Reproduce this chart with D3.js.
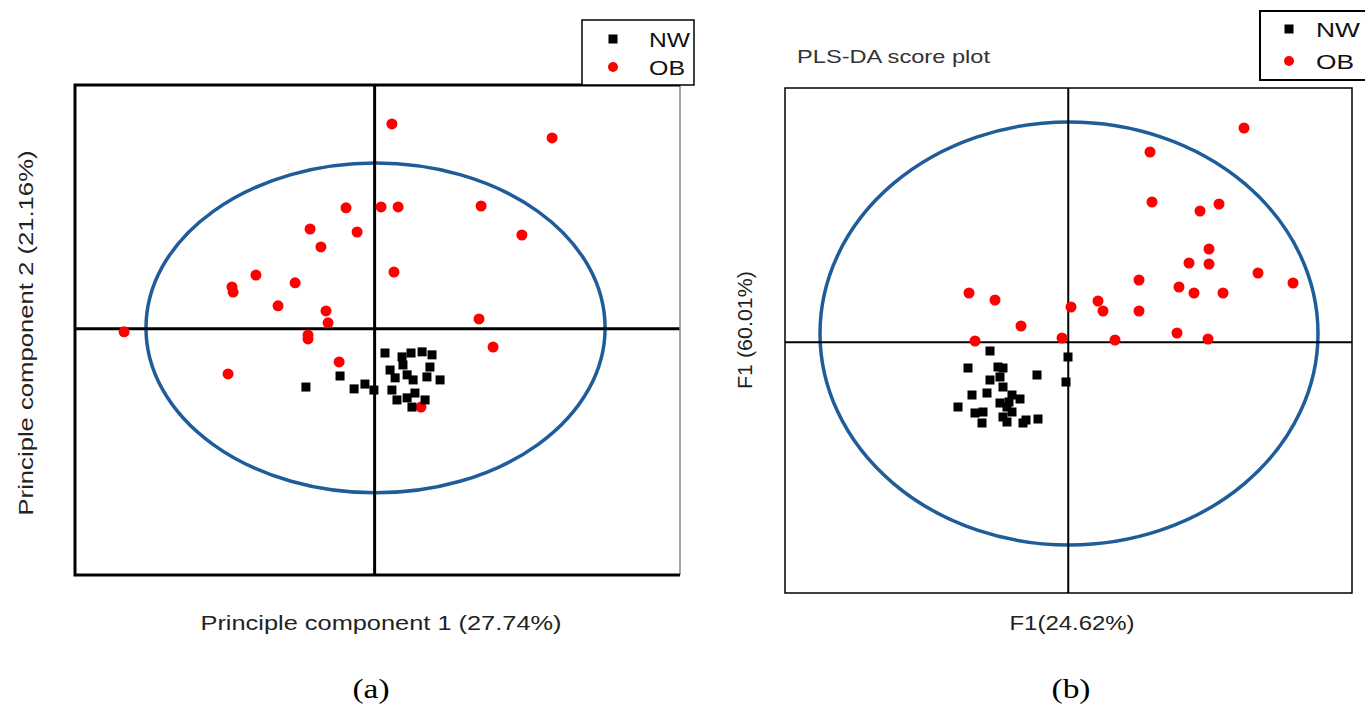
<!DOCTYPE html>
<html>
<head>
<meta charset="utf-8">
<script src="https://cdn.jsdelivr.net/npm/d3@7/dist/d3.min.js"></script>
<style>
  html, body { margin: 0; padding: 0; background: #fff; }
  svg { display: block; }
</style>
</head>
<body>
<svg id="chart" width="1365" height="704"></svg>
<script>
// ---- PCA scores (panel a): [PC1, PC2] ----
const pcaNW = [
  [-2.98,-2.53],[-1.50,-2.05],[-0.89,-2.61],[-0.42,-2.40],[-0.03,-2.66],
  [0.45,-1.05],[1.19,-1.22],[2.06,-1.00],[2.49,-1.13],[1.23,-1.57],
  [2.40,-1.66],[0.67,-1.79],[0.89,-2.13],[1.41,-2.00],[1.67,-2.22],
  [2.84,-2.22],[2.27,-2.09],[0.75,-2.66],[0.97,-3.09],[1.41,-3.00],
  [1.75,-2.79],[2.19,-3.09],[1.62,-3.40],[1.58,-1.05]
];
const pcaOB = [
  [0.75,8.91],[7.70,8.30],[-1.24,5.26],[0.28,5.30],[1.02,5.30],
  [4.62,5.34],[-2.80,4.34],[-0.76,4.21],[-2.33,3.56],[6.39,4.08],
  [0.84,2.47],[-5.15,2.34],[-6.19,1.82],[-6.14,1.60],[-3.45,2.00],
  [-4.19,1.00],[-2.11,0.78],[-2.02,0.26],[-10.87,-0.13],[-2.89,-0.27],
  [-2.89,-0.44],[-1.54,-1.44],[-6.36,-1.96],[4.53,0.43],[5.14,-0.79],
  [2.01,-3.40]
];
// ---- PLS-DA scores (panel b): [F1, F2] ----
const plsNW = [
  [-3.13,-0.35],[-4.01,-1.03],[-2.81,-0.99],[-3.13,-1.51],[-2.73,-1.39],
  [-3.85,-2.11],[-3.25,-2.03],[-2.61,-1.79],[-4.41,-2.59],[-3.73,-2.83],
  [-3.41,-2.79],[-3.45,-3.23],[-2.73,-2.43],[-2.61,-2.99],[-0.01,-0.59],
  [-1.25,-1.31],[-0.09,-1.59],[-2.61,-1.03],[-2.25,-2.11],[-1.93,-2.27],
  [-2.45,-2.59],[-2.25,-2.79],[-2.45,-3.19],[-1.81,-3.23],[-1.69,-3.11],
  [-1.21,-3.07],[-2.37,-2.39]
];
const plsOB = [
  [7.03,8.57],[3.27,7.61],[3.35,5.61],[5.27,5.25],[6.03,5.53],
  [5.63,3.73],[4.83,3.17],[5.63,3.13],[7.59,2.77],[8.99,2.37],
  [2.83,2.49],[4.43,2.21],[5.03,1.97],[6.19,1.97],[-3.97,1.97],
  [-2.93,1.69],[0.11,1.41],[1.19,1.65],[1.39,1.25],[2.83,1.25],
  [-1.89,0.65],[4.35,0.37],[-3.73,0.05],[-0.25,0.17],[1.87,0.09],
  [5.59,0.13]
];
// 95% confidence ellipses: centre and semi-axes in score units
const pcaEllipse = { cx: 0.04, cy: 0.04, rx: 9.96, ry: 7.17 };
const plsEllipse = { cx: 0.03, cy: 0.35, rx: 9.96, ry: 8.46 };

const groups = ["NW", "OB"];

const svg = d3.select("#chart");
const ELLIPSE_COLOR = "#1f5c99";
const SANS = "Liberation Sans, Arial, sans-serif";
const SERIF = "Liberation Serif, Times New Roman, serif";

// text stretched to a fixed width (the figure's type is set wide)
function wideText(g, str, x, y, size, width, opts = {}) {
  const t = g.append("text")
    .attr("font-family", opts.family || SANS).attr("font-size", size)
    .attr("fill", opts.fill || "#222")
    .attr("text-anchor", opts.anchor || "start")
    .attr("textLength", width).attr("lengthAdjust", "spacingAndGlyphs")
    .text(str);
  if (opts.rotate) t.attr("transform", `translate(${x},${y}) rotate(-90)`);
  else t.attr("x", x).attr("y", y);
  if (opts.dy) t.attr("dy", opts.dy);
  return t;
}

function drawSquare(g, data, x, y, size) {
  g.selectAll(null).data(data).enter().append("rect")
    .attr("x", d => x(d[0]) - size / 2)
    .attr("y", d => y(d[1]) - size / 2)
    .attr("width", size).attr("height", size)
    .attr("fill", "#000");
}
function drawCircle(g, data, x, y, r) {
  g.selectAll(null).data(data).enter().append("circle")
    .attr("cx", d => x(d[0])).attr("cy", d => y(d[1]))
    .attr("r", r).attr("fill", "#ff0000");
}
function drawEllipse(g, e, x, y, w) {
  g.append("ellipse")
    .attr("cx", x(e.cx)).attr("cy", y(e.cy))
    .attr("rx", Math.abs(x(e.cx + e.rx) - x(e.cx)))
    .attr("ry", Math.abs(y(e.cy + e.ry) - y(e.cy)))
    .attr("fill", "none").attr("stroke", ELLIPSE_COLOR).attr("stroke-width", w);
}
function drawLegend(box, markerX, textX, rowY, widths, strokeW) {
  const g = svg.append("g");
  g.append("rect").attr("x", box[0]).attr("y", box[1])
    .attr("width", box[2]).attr("height", box[3])
    .attr("fill", "#fff").attr("stroke", "#000").attr("stroke-width", strokeW);
  groups.forEach((name, i) => {
    if (i === 0) {
      g.append("rect").attr("x", markerX - 4.5).attr("y", rowY[i] - 4.5)
        .attr("width", 9).attr("height", 9).attr("fill", "#000");
    } else {
      g.append("circle").attr("cx", markerX).attr("cy", rowY[i]).attr("r", 5)
        .attr("fill", "#ff0000");
    }
    wideText(g, name, textX, rowY[i], 21, widths[i], { fill: "#111", dy: "0.36em" });
  });
}

// ---------------- Panel (a): PCA ----------------
{
  const x = d3.scaleLinear().domain([-13, 13.25]).range([75, 680]);
  const y = d3.scaleLinear().domain([-10.7, 10.6]).range([575, 85]);
  const g = svg.append("g");

  drawEllipse(g, pcaEllipse, x, y, 3.5);

  // zero lines
  g.append("line").attr("x1", x.range()[0]).attr("x2", x.range()[1])
    .attr("y1", y(0)).attr("y2", y(0)).attr("stroke", "#000").attr("stroke-width", 3);
  g.append("line").attr("x1", x(0)).attr("x2", x(0))
    .attr("y1", y.range()[1]).attr("y2", y.range()[0]).attr("stroke", "#000").attr("stroke-width", 3);

  drawCircle(g, pcaOB, x, y, 5.5);
  drawSquare(g, pcaNW, x, y, 9);

  // frame: heavy left/top/bottom, light right edge
  const [x0, x1] = x.range(), [y1, y0] = y.range();
  g.append("line").attr("x1", x1).attr("x2", x1).attr("y1", y0).attr("y2", y1)
    .attr("stroke", "#888").attr("stroke-width", 1.5);
  g.append("path")
    .attr("d", `M${x1},${y0}H${x0}V${y1}H${x1}`)
    .attr("fill", "none").attr("stroke", "#000").attr("stroke-width", 3);

  wideText(g, "Principle component 1 (27.74%)", 381, 630, 20, 361, { anchor: "middle" });
  wideText(g, "Principle component 2 (21.16%)", 33, 333, 20, 365, { anchor: "middle", rotate: true });

  wideText(g, "(a)", 371, 698, 27, 37, { anchor: "middle", family: SERIF, fill: "#000" });
}
drawLegend([582, 20, 112, 65], 613, 649, [39, 67], [41, 36], 1.5);

// ---------------- Panel (b): PLS-DA ----------------
{
  const x = d3.scaleLinear().domain([-11.33, 11.35]).range([785, 1352]);
  const y = d3.scaleLinear().domain([-10.03, 10.17]).range([593, 88]);
  const g = svg.append("g");

  drawEllipse(g, plsEllipse, x, y, 3.5);

  g.append("line").attr("x1", x.range()[0]).attr("x2", x.range()[1])
    .attr("y1", y(0)).attr("y2", y(0)).attr("stroke", "#000").attr("stroke-width", 2);
  g.append("line").attr("x1", x(0)).attr("x2", x(0))
    .attr("y1", y.range()[1]).attr("y2", y.range()[0]).attr("stroke", "#000").attr("stroke-width", 2);

  drawCircle(g, plsOB, x, y, 5.5);
  drawSquare(g, plsNW, x, y, 9);

  g.append("rect").attr("x", 785).attr("y", 88)
    .attr("width", 1352 - 785).attr("height", 593 - 88)
    .attr("fill", "none").attr("stroke", "#000").attr("stroke-width", 1.5);

  wideText(g, "PLS-DA score plot", 797, 63, 19, 193, { fill: "#333" });
  wideText(g, "F1(24.62%)", 1072, 630, 20, 125, { anchor: "middle" });
  wideText(g, "F1 (60.01%)", 752, 330, 20, 118, { anchor: "middle", rotate: true });

  wideText(g, "(b)", 1071, 698, 27, 39, { anchor: "middle", family: SERIF, fill: "#000" });
}
drawLegend([1260, 11, 112, 69], 1289, 1316, [29, 61], [44, 38], 2);
</script>
</body>
</html>
